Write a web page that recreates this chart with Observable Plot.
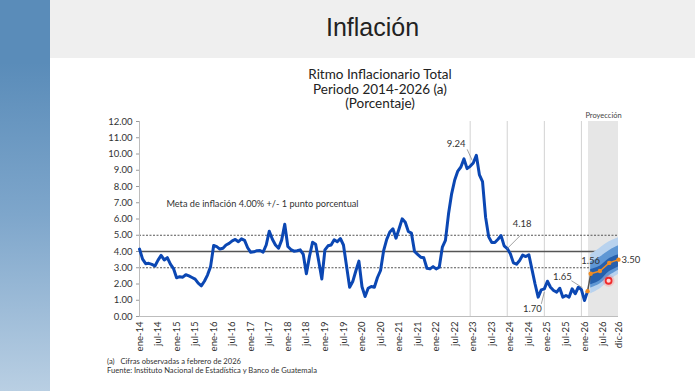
<!DOCTYPE html>
<html><head><meta charset="utf-8">
<script src="https://cdn.jsdelivr.net/npm/d3@7"></script>
<script src="https://cdn.jsdelivr.net/npm/@observablehq/plot@0.6"></script>
<style>
body{margin:0;background:#fff;}
#page{position:relative;width:695px;height:391px;overflow:hidden;background:#fff;font-family:Lato,"Open Sans",sans-serif;}
#bar{position:absolute;left:0;top:0;width:50px;height:391px;background:linear-gradient(180deg,#5a8cb9 0%,#5a8cb9 16%,#7ea6cb 55%,#b9cfe3 100%);}
#header{position:absolute;left:50px;top:0;width:645px;height:58px;background:#efefef;}
#h1{position:absolute;left:0;top:13px;width:645px;text-align:center;font-family:"Liberation Sans",Arial,sans-serif;font-size:25px;color:#222;}
#titles{position:absolute;left:230px;top:67px;width:300px;text-align:center;font-size:13.5px;line-height:14.5px;color:#222;}
#foot{position:absolute;left:107px;top:357px;font-size:7.6px;line-height:8.8px;color:#333;}
#chart{position:absolute;left:0;top:0;}
#chart g[aria-label="y-axis tick"] path, #chart g[aria-label="y-axis"] .tick line{stroke:#9a9a9a;}
</style></head>
<body><div id="page">
<div id="bar"></div>
<div id="header"><div id="h1">Inflación</div></div>
<div id="titles">Ritmo Inflacionario Total<br>Periodo 2014-2026 (a)<br>(Porcentaje)</div>
<div id="chart"></div>
<div id="foot">(a)&nbsp;&nbsp;&nbsp;Cifras observadas a febrero de 2026<br>Fuente: Instituto Nacional de Estadística y Banco de Guatemala</div>
</div>
<script>
// ---- data (month index 0 = ene-14) ----
const inflacion = [
 4.15,3.53,3.25,3.27,3.21,3.11,3.47,3.76,3.48,3.62,3.22,2.95,
 2.38,2.45,2.42,2.57,2.50,2.40,2.30,2.05,1.89,2.17,2.55,3.07,
 4.37,4.30,4.15,4.20,4.40,4.50,4.65,4.74,4.60,4.78,4.68,4.23,
 3.95,3.98,4.05,4.06,3.96,4.40,5.25,4.75,4.40,4.20,4.70,5.68,
 4.31,4.12,4.02,4.05,4.10,3.82,2.63,3.70,4.57,4.45,3.40,2.31,
 4.10,4.35,4.40,4.72,4.60,4.80,4.40,3.10,1.80,2.15,2.80,3.41,
 1.83,1.23,1.74,1.85,1.80,2.40,2.83,4.05,4.75,5.20,5.40,4.82,
 5.40,6.01,5.80,5.23,5.13,4.00,3.82,3.65,3.61,2.97,2.93,3.07,
 2.93,3.03,4.27,4.68,6.32,7.55,8.40,8.95,9.20,9.70,9.10,9.24,
 9.45,9.92,8.71,8.30,6.10,4.90,4.55,4.55,4.75,4.98,4.35,4.18,
 3.86,3.30,3.22,3.45,3.78,3.69,3.80,2.90,2.00,1.19,1.64,1.70,
 2.17,1.80,1.60,1.50,1.74,1.19,1.29,1.19,1.70,1.40,1.80,1.65,
 0.98,1.56
];
const tickMonths = [0,6,12,18,24,30,36,42,48,54,60,66,72,78,84,90,96,102,108,114,120,126,132,138,144,150,155];
const tickLabels = ["ene-14","jul-14","ene-15","jul-15","ene-16","jul-16","ene-17","jul-17","ene-18","jul-18","ene-19","jul-19","ene-20","jul-20","ene-21","jul-21","ene-22","jul-22","ene-23","jul-23","ene-24","jul-24","ene-25","jul-25","ene-26","jul-26","dic-26"];
const yTicks = [0,1,2,3,4,5,6,7,8,9,10,11,12];
const metaCentral = [4];
const metaBanda = [3,5];
const cierresAnuales = [107,119,131,143];
const proyMeses = [146,149,152,155];
const proyValores = [2.63,2.80,3.30,3.50];
const fanExtBajo = [1.40,1.70,2.20,2.60];
const fanExtAlto = [3.80,4.20,4.60,4.85];
const fanMedBajo = [1.75,2.00,2.50,2.85];
const fanMedAlto = [3.35,3.65,4.05,4.35];
const fanIntBajo = [1.95,2.20,2.75,3.05];
const fanIntAlto = [2.90,3.10,3.55,3.80];
const anotMeses = [107,119,131,143,145];
const anotValores = [9.24,4.18,1.70,1.65,1.56];
const proyInicio = 145.3, proyFin = 155;
const puntero = [{m:151.8, v:2.2}];

// ---- layout ----
const W=695,H=391,mL=139,mR=77,mT=121,mB=75;
const pxM=(W-mL-mR)/155, pxV=(H-mT-mB)/12;
// label offsets (px) and leader ends (px) relative to annotated point
const anotLayout = [
 {dx:-14,dy:-22,a:[-3,-17],b:[2,-6]},
 {dx:15,dy:-25,a:[13,-13],b:[0,0]},
 {dx:-12,dy:20,a:[-3,15],b:[0,3]},
 {dx:-19,dy:-13,a:[-10,-9],b:[1,-2]},
 {dx:3,dy:-30,a:null,b:null}
];

const obs = inflacion.map((v,i)=>({m:i,v}));
const proy = proyMeses.map((m,i)=>({m,v:proyValores[i]}));
const fan = proyMeses.map((m,i)=>({m,e1:fanExtBajo[i],e2:fanExtAlto[i],m1:fanMedBajo[i],m2:fanMedAlto[i],i1:fanIntBajo[i],i2:fanIntAlto[i]}));
const anots = anotMeses.map((m,i)=>{const L=anotLayout[i];return {lx:m+L.dx/pxM,ly:anotValores[i]-L.dy/pxV,label:anotValores[i].toFixed(2),m,v:anotValores[i],a:L.a,b:L.b};});
const leaders = anots.filter(d=>d.a).map(d=>({x1:d.m+d.a[0]/pxM,y1:d.v-d.a[1]/pxV,x2:d.m+d.b[0]/pxM,y2:d.v-d.b[1]/pxV}));
const last = obs[obs.length-1];

const chart = Plot.plot({
 width:W,height:H,marginLeft:mL,marginRight:mR,marginTop:mT,marginBottom:mB,
 style:{background:"transparent",fontFamily:"Lato, 'Open Sans', sans-serif",fontSize:"9.5px",color:"#333",overflow:"visible"},
 x:{domain:[0,155],ticks:tickMonths,tickFormat:d=>tickLabels[tickMonths.indexOf(d)],tickRotate:-90,tickSize:0,tickPadding:5,label:null},
 y:{domain:[0,12],ticks:yTicks,tickFormat:d=>d.toFixed(2),tickSize:3,tickPadding:4,label:null},
 marks:[
  Plot.rect([0],{x1:proyInicio,x2:proyFin,y1:0,y2:12,fill:"#e6e6e6"}),
  Plot.ruleX(cierresAnuales,{y1:0,y2:12,stroke:"#d2d2d2",strokeWidth:1}),
  Plot.ruleY(metaBanda,{stroke:"#555",strokeWidth:1,strokeDasharray:"2,1.5"}),
  Plot.ruleY(metaCentral,{stroke:"#555",strokeWidth:1.5}),
  Plot.ruleY([0],{stroke:"#bdbdbd"}),
  Plot.ruleX([0],{y1:0,y2:12,stroke:"#bdbdbd"}),
  Plot.areaY(fan,{x:"m",y1:"e1",y2:"e2",fill:"#b8d2ee",curve:"catmull-rom"}),
  Plot.areaY(fan,{x:"m",y1:"m1",y2:"m2",fill:"#5f97d4",curve:"catmull-rom"}),
  Plot.areaY(fan,{x:"m",y1:"i1",y2:"i2",fill:"#2660ad",curve:"catmull-rom"}),
  Plot.line(obs,{x:"m",y:"v",stroke:"#0b47b3",strokeWidth:3,strokeLinejoin:"round"}),
  Plot.link([0],{x1:last.m,y1:last.v,x2:proy[0].m,y2:proy[0].v,stroke:"#555",strokeWidth:1.5}),
  Plot.line(proy,{x:"m",y:"v",stroke:"#f08c22",strokeWidth:1.5}),
  Plot.dot(proy,{x:"m",y:"v",r:2.2,fill:"#f08c22"}),
  Plot.dot([last],{x:"m",y:"v",r:2.2,fill:"#f08c22"}),
  Plot.link(leaders,{x1:"x1",y1:"y1",x2:"x2",y2:"y2",stroke:"#8a8a8a",strokeWidth:0.8}),
  Plot.text(anots,{x:"lx",y:"ly",text:"label",fill:"#333",fontSize:9.5}),
  Plot.text([proy[proy.length-1]],{x:"m",y:"v",text:d=>d.v.toFixed(2),dx:3,textAnchor:"start",fill:"#333",fontSize:9.5}),
  Plot.text(["Meta de inflación 4.00% +/- 1 punto porcentual"],{x:8.7,y:6.9,textAnchor:"start",fill:"#333",fontSize:9.2}),
  Plot.text(["Proyección"],{x:(proyInicio+proyFin)/2,y:12,dy:-6,fill:"#444",fontSize:7.5}),
  Plot.dot(puntero,{x:"m",y:"v",r:6,fill:"#ff6b6b",fillOpacity:0.25}),
  Plot.dot(puntero,{x:"m",y:"v",r:3,fill:"#ffd6d6",stroke:"#f02a2a",strokeWidth:1.8})
 ]
});
document.getElementById("chart").appendChild(chart);
</script>
</body></html>
